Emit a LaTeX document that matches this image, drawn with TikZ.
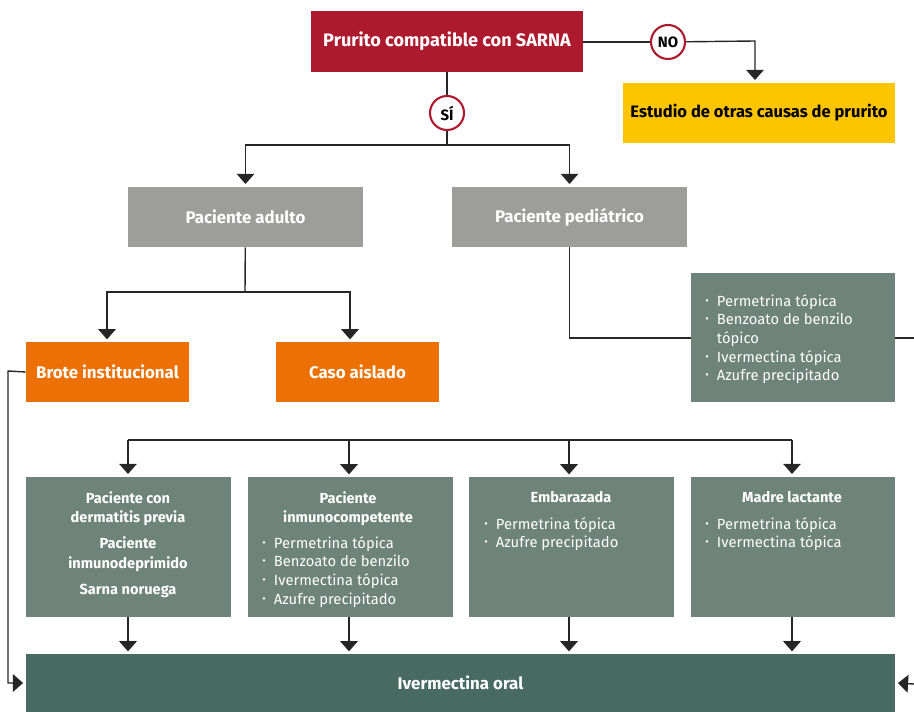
\documentclass[tikz,border=0pt]{standalone}
\usepackage{fontspec}
\setmainfont{Fira Sans}
\usetikzlibrary{arrows.meta}
\definecolor{sarnared}{HTML}{AE1A2D}
\definecolor{otherye}{HTML}{FDC400}
\definecolor{patgray}{HTML}{9D9D9C}
\definecolor{outorange}{HTML}{EC7004}
\definecolor{treatgreen}{HTML}{6E8379}
\definecolor{oralgreen}{HTML}{476A61}
\def\bul{\makebox[6.6pt][l]{\raisebox{.25ex}{\fontsize{6}{6}\selectfont\textbullet}}}
\def\ind{\hspace*{6.6pt}}
\tikzset{
	box/.style={inner sep=0pt, text=white, font=\bfseries\fontsize{9.6}{11}\selectfont},
	lst/.style={inner sep=0pt, text=white, align=left, font=\fontsize{8.4}{10.6}\selectfont},
	hdr/.style={inner sep=0pt, text=white, align=center, font=\bfseries\fontsize{8.3}{11}\selectfont},
	answer/.style={circle, draw=sarnared, line width=1.2pt, fill=white, minimum size=0.68cm, inner sep=0pt, font=\bfseries\fontsize{8.5}{10}\selectfont},
	line/.style={draw=black!85, line width=0.8pt},
	arr/.style={line, -{Triangle[width=10pt,length=5.8pt]}, shorten >=1.5pt},
}

\begin{document}
\begin{tikzpicture}[x=0.02cm, y=-0.02cm]
			%%%%% START %%%%%
			\useasboundingbox (0, 0) rectangle (914, 712);
			
			\node[box, fill=sarnared, minimum width=5.44cm, minimum height=1.22cm, font=\bfseries\fontsize{10.3}{12}\selectfont] (sarna) at (447, 41.5) {Prurito compatible con SARNA};
			\node[answer] (si) at (447, 113) {SÍ};
			\node[answer] (no) at (668, 42) {NO};
			\node[box, fill=otherye, text=black, minimum width=5.44cm, minimum height=1.2cm, font=\bfseries\fontsize{9.4}{11}\selectfont] (otras) at (759, 113) {Estudio de otras causas de prurito};
			
			\node[box, fill=patgray, minimum width=4.7cm, minimum height=1.2cm] (adulto) at (245.5, 217) {Paciente adulto};
			\node[box, fill=patgray, minimum width=4.7cm, minimum height=1.2cm] (pediatrico) at (569.5, 217) {Paciente pediátrico};
			
			\node[box, fill=outorange, minimum width=3.26cm, minimum height=1.2cm] (brote) at (107.5, 372) {Brote institucional};
			\node[box, fill=outorange, minimum width=3.26cm, minimum height=1.2cm] (aislado) at (357.5, 372) {Caso aislado};
			
			\coordinate (sij) at (447, 145);
			\coordinate (noj) at (755, 41);
			\coordinate (adj) at (245, 292);
			\coordinate (pedj) at (569, 338);
			\coordinate (pedend) at (914, 338);
			\coordinate (rightend) at (914, 684);
			\coordinate (brotej) at (8, 371);
			\coordinate (barl) at (128, 440);
			\coordinate (barr) at (792, 440);
			
			\draw[line] (sarna) -- (si);
			\draw[line] (si) -- (sij);
			\draw[arr] (sij) -| (adulto.north);
			\draw[arr] (sij) -| (pediatrico.north);
			\draw[line] (sarna.east |- no) -- (no);
			\draw[arr] (no) -- (noj) -- (noj |- otras.north);
			\draw[line] (adulto) -- (adj);
			\draw[arr] (adj) -| (107, 342);
			\draw[arr] (adj) -| (350, 342);
			\draw[line] (pediatrico) |- (pedj) -- (pedend);
			
			\node[fill=treatgreen, minimum width=4.08cm, minimum height=2.58cm, inner sep=0pt] (pedtrat) at (793, 337.5) {};
			\node[lst, anchor=north west] at (705, 294) {\bul Permetrina tópica\\ \bul Benzoato de benzilo\\ \ind tópico\\ \bul Ivermectina tópica\\ \bul Azufre precipitado};
			
			\draw[line] (barl) -- (barr);
			
			\node[fill=treatgreen, minimum width=4.1cm, minimum height=2.8cm, inner sep=0pt] (previa) at (128.5, 547) {};
			\node[fill=treatgreen, minimum width=4.1cm, minimum height=2.8cm, inner sep=0pt] (inmuno) at (350.5, 547) {};
			\node[fill=treatgreen, minimum width=4.1cm, minimum height=2.8cm, inner sep=0pt] (embarazada) at (571.5, 547) {};
			\node[fill=treatgreen, minimum width=4.1cm, minimum height=2.8cm, inner sep=0pt] (lactante) at (793, 547) {};
			
			\node[hdr, anchor=north] at (128, 491) {Paciente con\\ dermatitis previa\\[4pt] Paciente\\ inmunodeprimido\\[4pt] Sarna noruega};
			\node[hdr, anchor=north] at (348, 491) {Paciente\\ inmunocompetente};
			\node[lst, anchor=north west] at (262, 536) {\bul Permetrina tópica\\ \bul Benzoato de benzilo\\ \bul Ivermectina tópica\\ \bul Azufre precipitado};
			\node[hdr, anchor=north] at (571, 491) {Embarazada};
			\node[lst, anchor=north west] at (484, 517) {\bul Permetrina tópica\\ \bul Azufre precipitado};
			\node[hdr, anchor=north] at (792, 491) {Madre lactante};
			\node[lst, anchor=north west] at (705, 517) {\bul Permetrina tópica\\ \bul Ivermectina tópica};
			
			\draw[arr] (barl) -- (barl |- previa.north);
			\draw[arr] (barl -| 349, 0) -- (349, 477);
			\draw[arr] (barl -| 569, 0) -- (569, 477);
			\draw[arr] (barr) -- (barr |- lactante.north);
			
			\node[box, fill=oralgreen, minimum width=17.38cm, minimum height=1.16cm] (oral) at (460.5, 683) {Ivermectina oral};
			
			\draw[arr] (previa.south -| 128, 0) -- (128, 654);
			\draw[arr] (349, 617) -- (349, 654);
			\draw[arr] (569, 617) -- (569, 654);
			\draw[arr] (792, 617) -- (792, 654);
			\draw[arr] (brote.west) -- (brotej) |- (oral.west);
			\draw[arr] (rightend) -- (oral.east);
			
			%%%%% END %%%%%
\end{tikzpicture}
\end{document}
